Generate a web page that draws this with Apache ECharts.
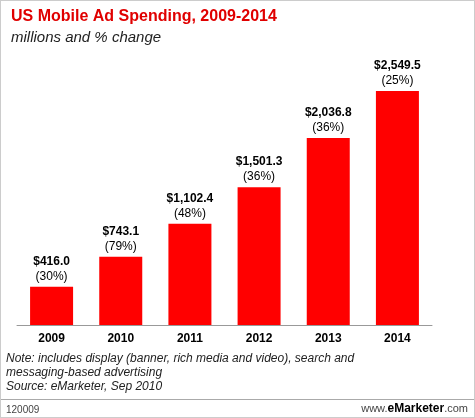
<!DOCTYPE html>
<html><head><meta charset="utf-8">
<script src="https://cdn.jsdelivr.net/npm/echarts@6/dist/echarts.min.js"></script>
<style>html,body{margin:0;padding:0;background:#fff}#c{width:475px;height:418px;box-sizing:border-box;border:1px solid #ccc}</style>
</head><body><div id="c"></div>
<script>
const categories = ['2009','2010','2011','2012','2013','2014'];
const spending = [416.0, 743.1, 1102.4, 1501.3, 2036.8, 2549.5];
const pctChange = ['30%','79%','48%','36%','36%','25%'];
const chart = echarts.init(document.getElementById('c'));
const F = 'Liberation Sans, Arial, sans-serif';
chart.setOption({
  animation:false,
  grid:{left:16,right:42,top:70,bottom:92},
  title:[
    {text:'US Mobile Ad Spending, 2009-2014',left:5,top:3,textStyle:{color:'#e00000',fontFamily:F,fontSize:16,fontWeight:'bold'}},
    {text:'millions and % change',left:5,top:24,textStyle:{color:'#222',fontFamily:F,fontSize:15,fontStyle:'italic',fontWeight:'normal'}}
  ],
  xAxis:{type:'category',data:categories,axisTick:{show:false},
    axisLine:{lineStyle:{color:'#999'}},
    axisLabel:{color:'#000',fontFamily:F,fontWeight:'bold',fontSize:12,margin:8}},
  yAxis:{type:'value',min:0,max:2766,show:false,splitLine:{show:false}},
  series:[{type:'bar',data:spending,barWidth:43,itemStyle:{color:'#ff0000'},
    label:{show:true,position:'top',distance:3,fontFamily:F,color:'#000',lineHeight:15,
      formatter:p=>'{v|$'+p.value.toLocaleString('en-US',{minimumFractionDigits:1,maximumFractionDigits:1})+'}\n{p|('+pctChange[p.dataIndex]+')}',
      rich:{v:{fontWeight:'bold',fontSize:12,fontFamily:F,color:'#000'},p:{fontSize:12,fontFamily:F,color:'#000'}}}}],
  graphic:[
    {type:'text',left:5,top:351,style:{text:'Note: includes display (banner, rich media and video), search and\nmessaging-based advertising\nSource: eMarketer, Sep 2010',font:'italic 12px '+F,fill:'#222',lineHeight:14}},
    {type:'rect',shape:{x:0,y:398,width:475,height:1},style:{fill:'#aaa'}},
    {type:'text',left:5,top:404,style:{text:'120009',font:'10px '+F,fill:'#444'}},
    {type:'text',right:6,top:402,style:{rich:{a:{fontSize:11,fontFamily:F,fill:'#444'},b:{fontSize:12,fontFamily:F,fontWeight:'bold',fill:'#000'}},text:'{a|www.}{b|eMarketer}{a|.com}'}}
  ]
});
</script></body></html>
